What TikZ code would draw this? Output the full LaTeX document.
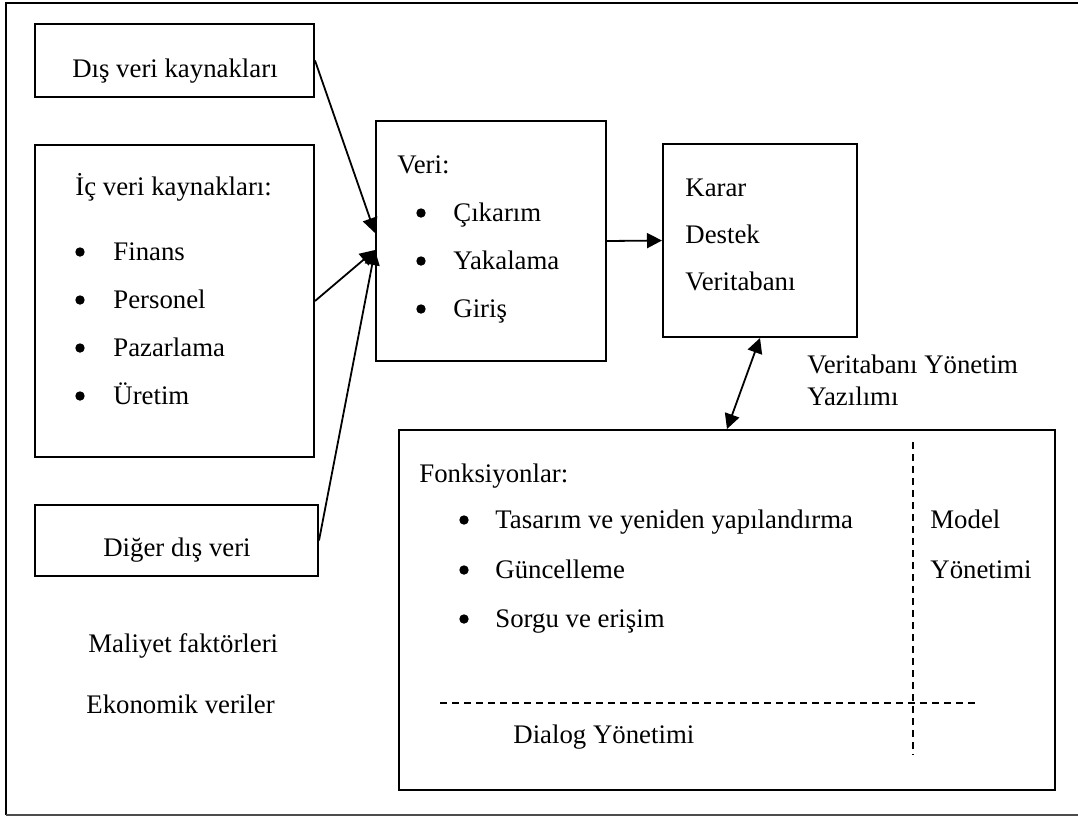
\documentclass[tikz,border=0pt]{standalone}
\usepackage{fontspec}
\setmainfont{Liberation Serif}
\usetikzlibrary{arrows.meta,fit}

\begin{document}
\begin{tikzpicture}[x=0.5pt,y=-0.5pt,
  box/.style={draw, line width=1pt, inner sep=0pt},
  lbl/.style={inner sep=0pt, anchor=base west, font=\fontsize{13.4}{16}\selectfont},
  ctr/.style={lbl, anchor=base},
  dot/.style={circle, fill, inner sep=0pt, minimum size=4.7pt},
  link/.style={line width=0.9pt, -{Triangle[length=7.5pt,width=7.5pt]}},
  twoway/.style={line width=0.9pt, {Triangle[length=7.5pt,width=7.5pt]}-{Triangle[length=7.5pt,width=7.5pt]}},
  divider/.style={line width=0.75pt, dash pattern=on 3.5pt off 2.5pt}]

  \useasboundingbox (0,0) rectangle (1078,816);

  % outer frame (its right side runs past the page edge)
  \draw[line width=1.25pt] (1078,3) -- (6,3) -- (6,815);
  \draw[line width=0.6pt, black!70] (6,815) -- (1078,815);

  % boxes
  \node[box, fit={(35,24) (314,97)}] (dis) {};
  \node[box, fit={(35,145) (314,457)}] (ic) {};
  \node[box, fit={(35,505) (318,576)}] (diger) {};
  \node[box, fit={(376,121) (606,361)}] (veri) {};
  \node[box, fit={(663,144) (857,337)}] (karar) {};
  \node[box, fit={(399,430) (1055,790)}] (dbms) {};

  % source texts
  \node[ctr] (t-dis) at (175,77) {Dış veri kaynakları};
  \node[lbl] (t-ic) at (75,195) {İç veri kaynakları:};
  \foreach \name/\txt/\yy in {fin/Finans/260, per/Personel/308, paz/Pazarlama/356, ure/Üretim/404} {
    \node[dot] (b-\name) at (80,\yy-8) {};
    \node[lbl] (t-\name) at (113,\yy) {\txt};
  }
  \node[ctr] (t-diger) at (177,556) {Diğer dış veri};
  \node[lbl] (t-mal) at (88,652) {Maliyet faktörleri};
  \node[lbl] (t-eko) at (86,713) {Ekonomik veriler};

  % data capture
  \node[lbl] (t-veri) at (397,173) {Veri:};
  \foreach \name/\txt/\yy in {cik/Çıkarım/221, yak/Yakalama/269, gir/Giriş/317} {
    \node[dot] (b-\name) at (421,\yy-8) {};
    \node[lbl] (t-\name) at (453,\yy) {\txt};
  }

  % decision support database
  \node[lbl] (t-kar1) at (685,196) {Karar};
  \node[lbl] (t-kar2) at (685,243) {Destek};
  \node[lbl] (t-kar3) at (685,290) {Veritabanı};

  \node[lbl] (t-vy1) at (807,373) {Veritabanı Yönetim};
  \node[lbl] (t-vy2) at (807,405) {Yazılımı};

  % DBMS functions
  \node[lbl] (t-fonk) at (419,482) {Fonksiyonlar:};
  \foreach \name/\txt/\yy in {tas/Tasarım ve yeniden yapılandırma/528, gun/Güncelleme/578, sor/Sorgu ve erişim/627} {
    \node[dot] (b-\name) at (464,\yy-8) {};
    \node[lbl] (t-\name) at (495,\yy) {\txt};
  }
  \node[lbl] (t-mod1) at (930,528) {Model};
  \node[lbl] (t-mod2) at (930,578) {Yönetimi};
  \node[lbl] (t-dia) at (513,743) {Dialog Yönetimi};

  \draw[divider] (913,442) -- (913,755);
  \draw[divider] (440,703) -- (979,703);

  % connectors
  \draw[link] (dis.east) -- ([yshift=4pt]veri.west);
  \draw[link] (ic.east) -- ([yshift=-4.5pt]veri.west);
  \draw[link] (diger.east) -- ([yshift=-4.5pt]veri.west);
  \draw[link] (veri.east) -- (karar.west);
  \draw[twoway] (karar.south) -- (dbms.north);
\end{tikzpicture}
\end{document}
